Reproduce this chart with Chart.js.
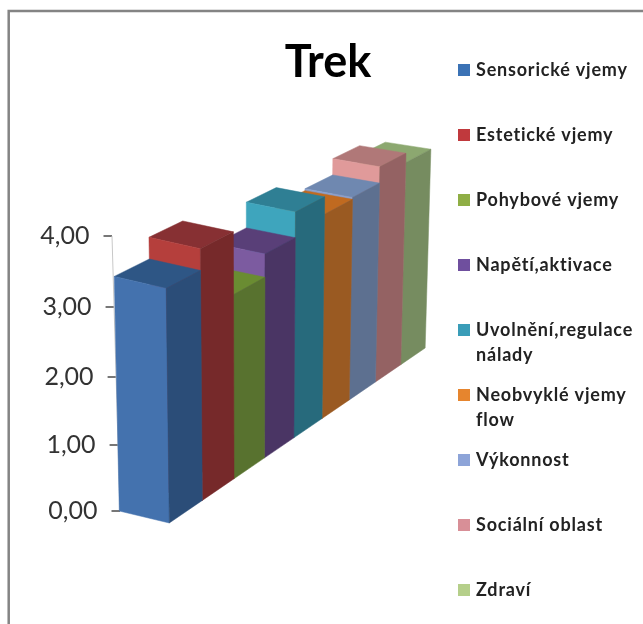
<!DOCTYPE html>
<html>
<head>
<meta charset="utf-8">
<title>Trek</title>
<script src="https://cdn.jsdelivr.net/npm/chart.js@4"></script>
<style>
    html, body { margin: 0; padding: 0; background: #fff; overflow: hidden; }
    #chart { display: block; }
</style>
</head>
<body>
<canvas id="chart" width="643" height="624"></canvas>
<script>
const categories = ["Sensorické vjemy", "Estetické vjemy", "Pohybové vjemy", "Napětí,aktivace",
    "Uvolnění,regulace nálady", "Neobvyklé vjemy flow", "Výkonnost", "Sociální oblast", "Zdraví"];
const values = [3.45, 3.76, 2.84, 3.19, 3.58, 3.31, 3.34, 3.60, 3.45];
const legendLines = [["Sensorické vjemy"], ["Estetické vjemy"], ["Pohybové vjemy"], ["Napětí,aktivace"],
    ["Uvolnění,regulace", "nálady"], ["Neobvyklé vjemy", "flow"], ["Výkonnost"], ["Sociální oblast"], ["Zdraví"]];
const legendColors = ["#3b72b5", "#c0393d", "#8fae45", "#6f4f9e", "#3a9db8", "#e6852e", "#8da4d8", "#d88f97", "#b5cf8a"];
const frontColors = ["#4472ae", "#b53f3c", "#7f9e3c", "#7c5ba0", "#3ea5bd", "#d27a28", "#8aa0cc", "#e09a9a", "#a3bc7c"];
const sideColors = ["#2b4d78", "#76292a", "#58722f", "#4a3564", "#276a7c", "#9a5a22", "#5d7090", "#946263", "#768c60"];
const topColors = ["#2e5685", "#873033", "#6a8c32", "#593f78", "#2f7f94", "#c06a20", "#6f88b0", "#b07878", "#8ca870"];

// camera settings of the 3D look
const PITCH = 0.05;         // vertical foreshortening of the value axis
const AXIS_LEAN = 8;        // axis leans left by this many px over its height
const ROW_ORIGIN = { x: 169.3, y: 523 };
const ROW_STEP = 33.7;
const ROW_SHRINK = 0.0206;
const ROW_SLOPE = 0.684;
const HEIGHT_SHRINK = 0.02;
const CONVERGE = 0.0113;    // verticals converge downwards
const CONVERGE_X = 250;

// value axis with perspective, its ticks and labels lean with the walls
class LeaningScale extends Chart.LinearScale {
    static id = "leaning";
    static defaults = Chart.LinearScale.defaults;

    getPixelForValue(value) {
        const t = (value - this.min) / (this.max - this.min);
        return this.bottom - this.height * t / (1 + PITCH * (1 - t));
    }

    lean(y) {
        return -AXIS_LEAN * (this.bottom - y) / this.height;
    }

    _computeGridLineItems(area) {
        const items = super._computeGridLineItems(area);
        items.forEach(it => {
            const dx = this.lean(it.ty1);
            it.tx1 += dx;
            it.tx2 += dx;
        });
        return items;
    }

    _computeLabelItems(area) {
        const items = super._computeLabelItems(area);
        items.forEach(it => {
            it.options.translation[0] += this.lean(it.options.translation[1]);
        });
        return items;
    }
}
Chart.register(LeaningScale);

// where a bar corner lands: d runs along the row, w across a bar, rise is px above the floor
function project(d, w, rise) {
    const t = ROW_STEP * d / (1 + ROW_SHRINK * d);
    const x = ROW_ORIGIN.x + t - (1 - w) * (50 - 0.65 * d);
    const y = ROW_ORIGIN.y - t * ROW_SLOPE - (1 - w) * (12 - 0.55 * d);
    const h = rise / (1 + HEIGHT_SHRINK * d);
    return { x: x + (x - CONVERGE_X) * CONVERGE * (h / 68.75), y: y - h };
}

function face(ctx, pts, color) {
    ctx.beginPath();
    pts.forEach((p, i) => i ? ctx.lineTo(p.x, p.y) : ctx.moveTo(p.x, p.y));
    ctx.closePath();
    ctx.fillStyle = color;
    ctx.strokeStyle = color;
    ctx.lineWidth = 0.5;
    ctx.fill();
    ctx.stroke();
}

const bars3d = {
    id: "bars3d",
    // replaces the flat rectangles, back of the row first
    beforeDatasetDraw(chart, args) {
        const { ctx, chartArea } = chart;
        const bars = args.meta.data;
        const step = 9 / chartArea.width;
        ctx.save();
        for (let i = bars.length - 1; i >= 0; i--) {
            const bar = bars[i].getProps(["x", "y", "base", "width"]);
            const d0 = (bar.x - bar.width / 2 - chartArea.left) * step;
            const d1 = (bar.x + bar.width / 2 - chartArea.left) * step;
            const rise = bar.base - bar.y;
            face(ctx, [project(d0, 0, rise), project(d0, 1, rise), project(d1, 1, rise), project(d1, 0, rise)], topColors[i]);
            face(ctx, [project(d0, 0, 0), project(d0, 1, 0), project(d0, 1, rise), project(d0, 0, rise)], frontColors[i]);
            face(ctx, [project(d0, 1, 0), project(d1, 1, 0), project(d1, 1, rise), project(d0, 1, rise)], sideColors[i]);
        }
        ctx.restore();
        return false;
    }
};

const frame = {
    id: "frame",
    beforeDraw(chart) {
        const { ctx, width, height } = chart;
        ctx.save();
        ctx.strokeStyle = "#848484";
        ctx.lineWidth = 2.5;
        ctx.beginPath();
        ctx.moveTo(8.7, height);
        ctx.lineTo(8.7, 11);
        ctx.lineTo(width, 11);
        ctx.stroke();
        ctx.restore();
    }
};

const axisLine = {
    id: "axisLine",
    beforeDatasetsDraw(chart) {
        const { ctx, scales } = chart;
        const y = scales.y;
        ctx.save();
        ctx.strokeStyle = "#c8c8c8";
        ctx.lineWidth = 1;
        ctx.beginPath();
        ctx.moveTo(y.right + y.lean(y.getPixelForValue(4)), y.getPixelForValue(4));
        ctx.lineTo(y.right, y.getPixelForValue(0));
        ctx.stroke();
        ctx.restore();
    }
};

// two of the names wrap, so the key is laid out by hand on an even pitch
const wrappedLegend = {
    id: "wrappedLegend",
    afterDraw(chart) {
        const { ctx } = chart;
        ctx.save();
        ctx.font = "bold 18px Lato";
        ctx.letterSpacing = "0.8px";
        ctx.textBaseline = "middle";
        legendLines.forEach((lines, i) => {
            const y = 70 + 65 * i;
            ctx.fillStyle = legendColors[i];
            ctx.fillRect(458, y - 6, 12, 12);
            ctx.fillStyle = "#222";
            lines.forEach((line, j) => ctx.fillText(line, 476, y + 25 * j));
        });
        ctx.restore();
    }
};

new Chart(document.getElementById("chart"), {
    type: "bar",
    data: {
        labels: categories,
        datasets: [{
            label: "Trek",
            data: values,
            backgroundColor: frontColors,
            barPercentage: 1,
            categoryPercentage: 1
        }]
    },
    plugins: [frame, axisLine, bars3d, wrappedLegend],
    options: {
        responsive: false,
        animation: false,
        layout: { padding: { left: 13, right: 0, top: 0, bottom: 113 } },
        plugins: {
            legend: { display: false },
            tooltip: { enabled: false },
            title: {
                display: true,
                text: "Trek",
                color: "#000",
                font: { family: "Lato", size: 45, weight: "bold", lineHeight: 1.2 },
                padding: { top: 35, bottom: 147 }
            }
        },
        scales: {
            x: { display: false },
            y: {
                type: "leaning",
                min: 0,
                max: 4,
                afterFit(scale) { scale.width = 107; },
                ticks: {
                    stepSize: 1,
                    padding: 14,
                    color: "#333",
                    font: { family: "Lato", size: 25 },
                    callback: v => v.toFixed(2).replace(".", ",")
                },
                grid: { drawOnChartArea: false, drawTicks: true, tickLength: 8.5, color: "#777", lineWidth: 2 },
                border: { display: false }
            }
        }
    }
});
</script>
</body>
</html>
